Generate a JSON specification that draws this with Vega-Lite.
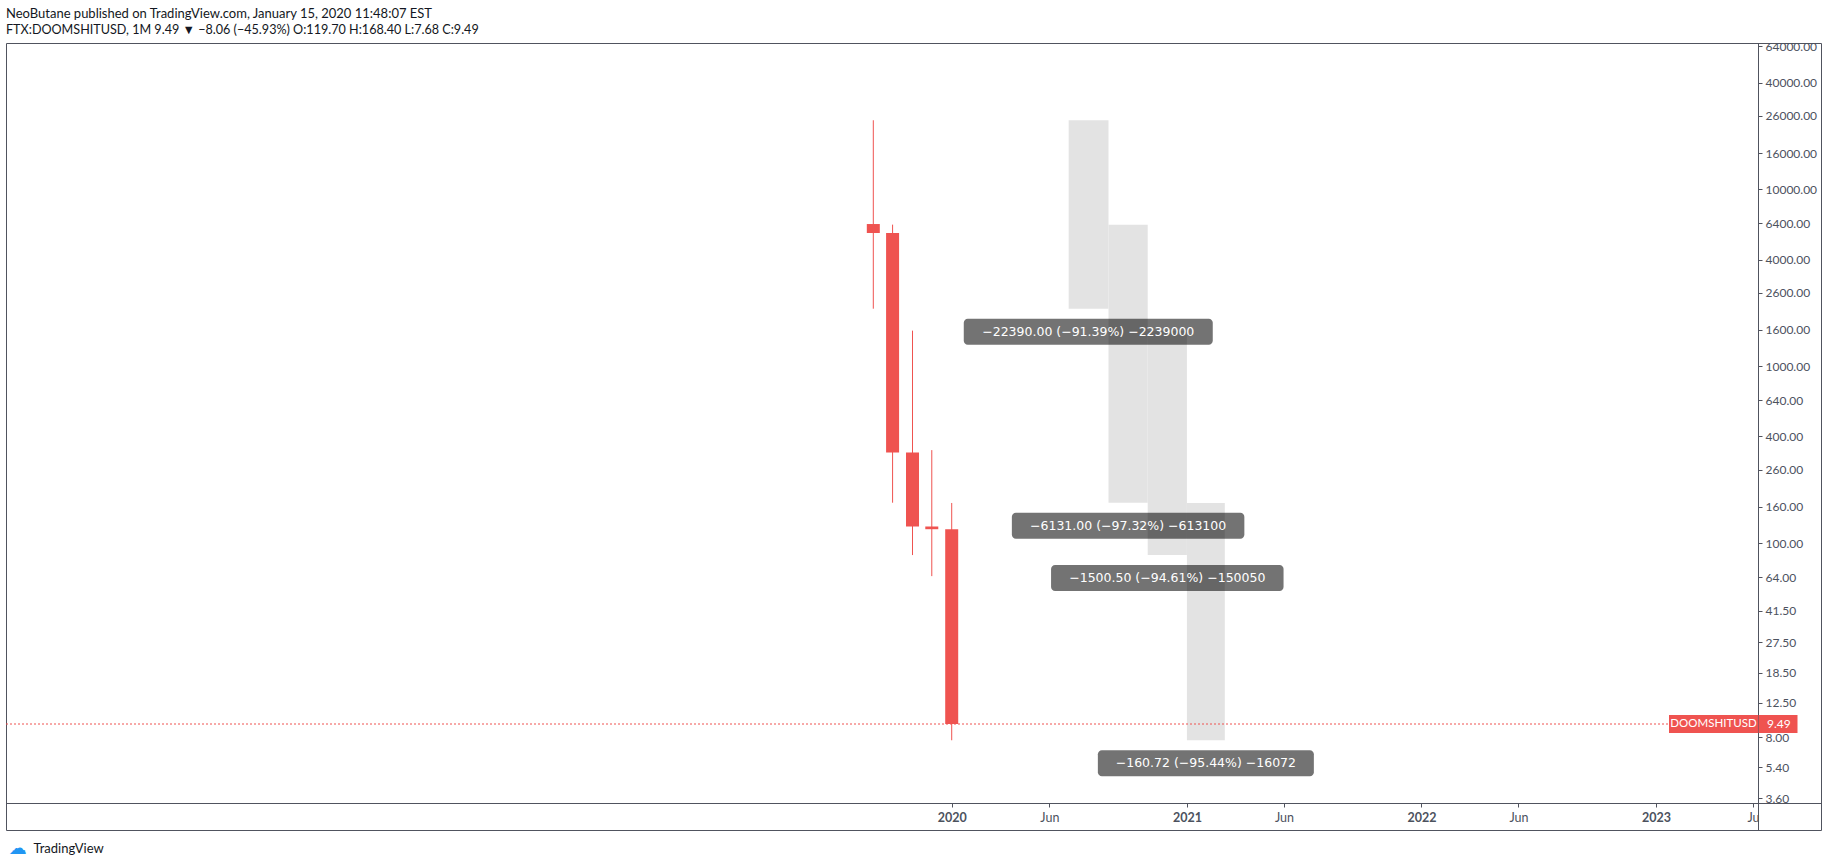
{
  "$schema": "https://vega.github.io/schema/vega-lite/v6.json",
  "width": 1815,
  "height": 787,
  "autosize": {"type": "none"},
  "padding": {"left": 6, "top": 43, "right": 7, "bottom": 37},
  "background": "#ffffff",
  "config": {"view": {"stroke": "#50535e", "strokeWidth": 1}, "font": "Lato"},
  "title": {
    "text": "NeoButane published on TradingView.com, January 15, 2020 11:48:07 EST",
    "subtitle": "FTX:DOOMSHITUSD, 1M 9.49 ▼ −8.06 (−45.93%) O:119.70 H:168.40 L:7.68 C:9.49",
    "anchor": "start",
    "frame": "group",
    "font": "Lato",
    "fontSize": 13,
    "fontWeight": "normal",
    "color": "#131722",
    "subtitleFont": "Lato",
    "subtitleFontSize": 12.6,
    "subtitleColor": "#131722",
    "subtitlePadding": 3,
    "offset": 3.5
  },
  "datasets": {
    "candles": [
      {"date": "2019-09-01T00:00:00Z", "open": 6350, "high": 24500, "low": 2110, "close": 5650},
      {"date": "2019-10-01T00:00:00Z", "open": 5650, "high": 6300, "low": 169, "close": 325},
      {"date": "2019-11-01T00:00:00Z", "open": 325, "high": 1586, "low": 85.5, "close": 124},
      {"date": "2019-12-01T00:00:00Z", "open": 124, "high": 335, "low": 65, "close": 119.7},
      {"date": "2020-01-01T00:00:00Z", "open": 119.7, "high": 168.4, "low": 7.68, "close": 9.49}
    ],
    "ranges": [
      {"start": "2020-07-01T00:00:00Z", "end": "2020-09-01T00:00:00Z", "mid": "2020-07-31T12:00:00Z", "high": 24500, "low": 2110, "label": "−22390.00 (−91.39%) −2239000"},
      {"start": "2020-09-01T00:00:00Z", "end": "2020-11-01T00:00:00Z", "mid": "2020-10-01T12:00:00Z", "high": 6300, "low": 169, "label": "−6131.00 (−97.32%) −613100"},
      {"start": "2020-11-01T00:00:00Z", "end": "2021-01-01T00:00:00Z", "mid": "2020-12-01T12:00:00Z", "high": 1586, "low": 85.5, "label": "−1500.50 (−94.61%) −150050"},
      {"start": "2021-01-01T00:00:00Z", "end": "2021-03-01T00:00:00Z", "mid": "2021-01-30T12:00:00Z", "high": 168.4, "low": 7.68, "label": "−160.72 (−95.44%) −16072"}
    ],
    "last": [{"price": 9.49, "symbol": "DOOMSHITUSD", "priceText": "9.49"}],
    "sep": [
      {"t": "2023-06-08T17:00:00Z", "top": 3.395, "bottom": 2.389}
    ]
  },
  "resolve": {"axis": {"x": "independent", "y": "independent"}},
  "layer": [
    {
      "data": {"name": "ranges"},
      "mark": {"type": "rect", "fill": "#e3e3e3"},
      "encoding": {
        "x": {
          "field": "start",
          "type": "temporal",
          "scale": {
            "type": "utc",
            "domain": [
              {"year": 2015, "month": 12, "date": 21, "hours": 8, "utc": true},
              {"year": 2023, "month": 6, "date": 8, "hours": 17, "utc": true}
            ],
            "range": [0, 1752],
            "padding": 0,
            "nice": false
          },
          "axis": {
            "orient": "bottom",
            "offset": -27,
            "values": [
              {"year": 2020, "month": 1, "date": 1, "utc": true},
              {"year": 2020, "month": 6, "date": 1, "utc": true},
              {"year": 2021, "month": 1, "date": 1, "utc": true},
              {"year": 2021, "month": 6, "date": 1, "utc": true},
              {"year": 2022, "month": 1, "date": 1, "utc": true},
              {"year": 2022, "month": 6, "date": 1, "utc": true},
              {"year": 2023, "month": 1, "date": 1, "utc": true},
              {"year": 2023, "month": 6, "date": 1, "utc": true}
            ],
            "labelExpr": "utcmonth(datum.value) == 0 ? utcFormat(datum.value, '%Y') : (utcyear(datum.value) == 2023 ? 'Ju' : 'Jun')",
            "labelFontWeight": {"condition": {"test": "utcmonth(datum.value) == 0", "value": "bold"}, "value": "normal"},
            "labelFont": "Lato",
            "labelFontSize": 12.5,
            "labelColor": "#4c525e",
            "labelPadding": 4,
            "labelFlush": false,
            "labelOverlap": false,
            "tickSize": 4,
            "tickColor": "#50535e",
            "domain": false,
            "grid": false,
            "title": null
          }
        },
        "x2": {"field": "end"},
        "y": {
          "field": "high",
          "type": "quantitative",
          "scale": {"type": "log", "domain": [3.395, 66960], "range": [760, 0], "padding": 0, "nice": false, "zero": false},
          "axis": {
            "orient": "right",
            "offset": -63,
            "values": [64000, 40000, 26000, 16000, 10000, 6400, 4000, 2600, 1600, 1000, 640, 400, 260, 160, 100, 64, 41.5, 27.5, 18.5, 12.5, 8, 5.4, 3.6],
            "format": ".2f",
            "labelFont": "Lato",
            "labelFontSize": 12,
            "labelColor": "#4c525e",
            "labelPadding": 3,
            "labelOverlap": false,
            "labelFlush": false,
            "tickSize": 4,
            "tickColor": "#50535e",
            "domain": true,
            "domainColor": "#50535e",
            "domainWidth": 1,
            "grid": false,
            "title": null
          }
        },
        "y2": {"field": "low"}
      }
    },
    {
      "data": {"values": [{"k": 1}]},
      "mark": {"type": "point", "opacity": 0},
      "encoding": {
        "x": {
          "datum": {"year": 2023, "month": 6, "date": 8, "hours": 17, "utc": true},
          "type": "temporal",
          "axis": {
            "orient": "bottom",
            "values": [{"year": 2023, "month": 6, "date": 8, "hours": 17, "utc": true}],
            "grid": false,
            "domain": false,
            "ticks": false,
            "labels": false,
            "title": "TradingView",
            "titleFont": "Lato",
            "titleFontSize": 13,
            "titleFontWeight": "normal",
            "titleColor": "#131722",
            "titleAnchor": "start",
            "titleAlign": "left",
            "titleBaseline": "middle",
            "titleX": 27,
            "titleY": 18
          }
        },
        "y": {
          "datum": 3.395,
          "type": "quantitative",
          "axis": {
            "orient": "left",
            "values": [3.395],
            "grid": false,
            "domain": false,
            "ticks": false,
            "labels": false,
            "title": "☁",
            "titleFont": "DejaVu Sans",
            "titleFontSize": 18,
            "titleFontWeight": "normal",
            "titleColor": "#2196f3",
            "titleAngle": 0,
            "titleAlign": "left",
            "titleBaseline": "middle",
            "titleX": 2,
            "titleY": 805
          }
        }
      }
    },
    {
      "data": {"name": "sep"},
      "mark": {"type": "rule", "color": "#50535e", "strokeWidth": 1, "xOffset": 0.5},
      "encoding": {
        "x": {"field": "t", "type": "temporal", "axis": null},
        "y": {"field": "top", "type": "quantitative", "axis": null},
        "y2": {"field": "bottom"}
      }
    },
    {
      "data": {"values": [{"k": 1}]},
      "mark": {"type": "rule", "color": "#50535e", "strokeWidth": 1, "yOffset": 0.5},
      "encoding": {
        "x": {"datum": {"year": 2015, "month": 12, "date": 21, "hours": 8, "utc": true}, "type": "temporal", "axis": null},
        "x2": {"datum": {"year": 2023, "month": 9, "date": 14, "hours": 18, "utc": true}},
        "y": {"datum": 3.395, "type": "quantitative", "axis": null}
      }
    },
    {
      "data": {"name": "candles"},
      "mark": {"type": "rule", "color": "#ef5350", "strokeWidth": 1},
      "encoding": {
        "x": {"field": "date", "type": "temporal", "axis": null},
        "y": {"field": "low", "type": "quantitative", "axis": null},
        "y2": {"field": "high"}
      }
    },
    {
      "data": {"name": "candles"},
      "mark": {"type": "bar", "color": "#ef5350", "width": 13},
      "encoding": {
        "x": {"field": "date", "type": "temporal", "axis": null},
        "y": {"field": "open", "type": "quantitative", "axis": null},
        "y2": {"field": "close"}
      }
    },
    {
      "data": {"name": "last"},
      "mark": {"type": "rule", "color": "#ef5350", "strokeWidth": 1, "strokeDash": [2, 2]},
      "encoding": {
        "x": {"datum": {"year": 2015, "month": 12, "date": 21, "hours": 8, "utc": true}, "type": "temporal", "axis": null},
        "x2": {"datum": {"year": 2023, "month": 6, "date": 8, "hours": 17, "utc": true}},
        "y": {"field": "price", "type": "quantitative", "axis": null}
      }
    },
    {
      "data": {"name": "ranges"},
      "mark": {"type": "bar", "color": "#000000", "opacity": 0.55, "cornerRadius": 4, "yOffset": 10, "y2Offset": 36},
      "encoding": {
        "x": {"field": "mid", "type": "temporal", "axis": null},
        "y": {"field": "low", "type": "quantitative", "axis": null},
        "y2": {"field": "low"},
        "size": {"value": {"expr": "8.25 * length(datum.label) + 18"}}
      }
    },
    {
      "data": {"name": "ranges"},
      "mark": {"type": "text", "color": "#ffffff", "font": "DejaVu Sans", "fontSize": 12.5, "align": "center", "baseline": "middle", "dy": 23},
      "encoding": {
        "x": {"field": "mid", "type": "temporal", "axis": null},
        "y": {"field": "low", "type": "quantitative", "axis": null},
        "text": {"field": "label"}
      }
    },
    {
      "data": {"name": "last"},
      "mark": {"type": "bar", "color": "#ef5350", "width": 89, "xOffset": -44.5, "yOffset": -9, "y2Offset": 9},
      "encoding": {
        "x": {"datum": {"year": 2023, "month": 6, "date": 8, "hours": 17, "utc": true}, "type": "temporal", "axis": null},
        "y": {"field": "price", "type": "quantitative", "axis": null},
        "y2": {"field": "price"}
      }
    },
    {
      "data": {"name": "last"},
      "mark": {"type": "bar", "color": "#ef5350", "width": 39, "xOffset": 20, "yOffset": -9, "y2Offset": 9},
      "encoding": {
        "x": {"datum": {"year": 2023, "month": 6, "date": 8, "hours": 17, "utc": true}, "type": "temporal", "axis": null},
        "y": {"field": "price", "type": "quantitative", "axis": null},
        "y2": {"field": "price"}
      }
    },
    {
      "data": {"name": "last"},
      "mark": {"type": "text", "color": "#ffffff", "font": "Lato", "fontSize": 11.5, "align": "center", "baseline": "middle", "dx": -44.5},
      "encoding": {
        "x": {"datum": {"year": 2023, "month": 6, "date": 8, "hours": 17, "utc": true}, "type": "temporal", "axis": null},
        "y": {"field": "price", "type": "quantitative", "axis": null},
        "text": {"field": "symbol"}
      }
    },
    {
      "data": {"name": "last"},
      "mark": {"type": "text", "color": "#ffffff", "font": "Lato", "fontSize": 12, "align": "left", "baseline": "middle", "dx": 9},
      "encoding": {
        "x": {"datum": {"year": 2023, "month": 6, "date": 8, "hours": 17, "utc": true}, "type": "temporal", "axis": null},
        "y": {"field": "price", "type": "quantitative", "axis": null},
        "text": {"field": "priceText"}
      }
    }
  ]
}
